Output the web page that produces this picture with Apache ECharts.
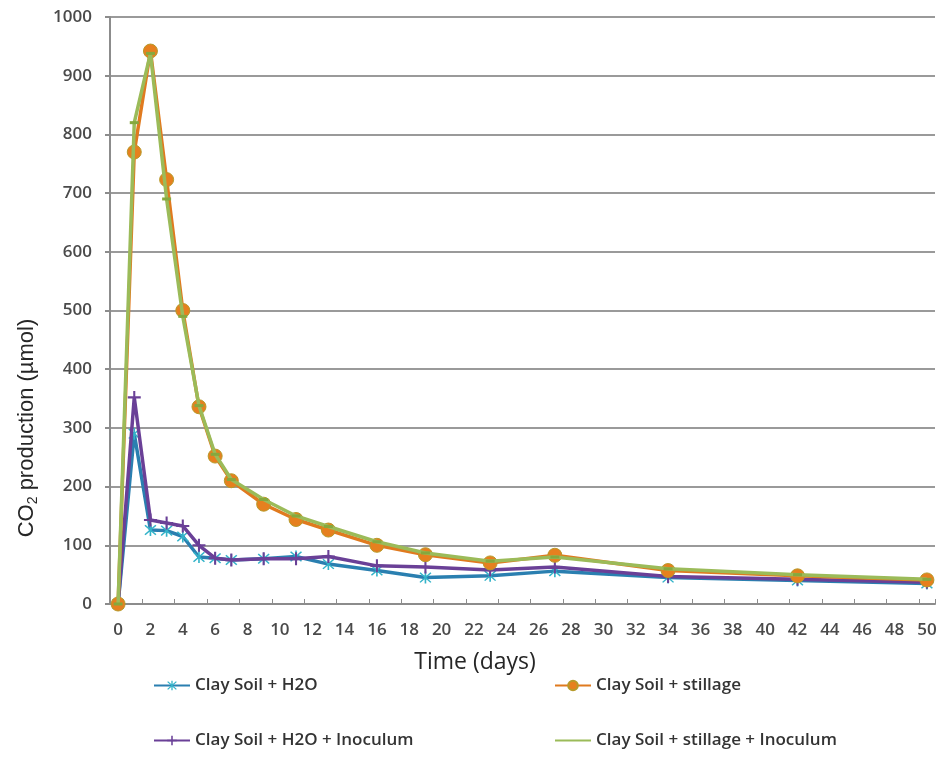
<!DOCTYPE html>
<html>
<head>
<meta charset="utf-8">
<script src="https://cdn.jsdelivr.net/npm/echarts@6/dist/echarts.min.js"></script>
<style>
html,body{margin:0;padding:0;background:#fff;}
#chart{width:943px;height:767px;}
</style>
</head>
<body>
<div id="chart"></div>
<script>
// Tick labels / categories (days 0..50)
const dayCategories = ['0','1','2','3','4','5','6','7','8','9','10','11','12','13','14','15','16','17','18','19','20','21','22','23','24','25','26','27','28','29','30','31','32','33','34','35','36','37','38','39','40','41','42','43','44','45','46','47','48','49','50'];
// Sampling days
const days = [0, 1, 2, 3, 4, 5, 6, 7, 9, 11, 13, 16, 19, 23, 27, 34, 42, 50];
// Series values (µmol)
const claySoilH2O         = [0, 290, 126, 125, 115, 80, 78, 75, 77, 81, 68, 57, 45, 48, 56, 45, 40, 35];
const claySoilStillage    = [0, 770, 942, 723, 500, 336, 252, 210, 170, 144, 126, 100, 84, 70, 83, 57, 48, 41];
const claySoilH2OInoc     = [0, 352, 143, 138, 133, 100, 78, 75, 77, 77, 81, 65, 63, 58, 63, 47, 42, 37];
const claySoilStillInoc   = [0, 820, 938, 690, 490, 338, 255, 212, 178, 150, 132, 106, 87, 73, 80, 60, 50, 42];
const seriesNames = ['Clay Soil + H2O', 'Clay Soil + stillage', 'Clay Soil + H2O + Inoculum', 'Clay Soil + stillage + Inoculum'];

function pairs(vals){ return days.map((d,i)=>[String(d), vals[i]]); }

const asterisk = 'path://M4.4 0H5.6V10H4.4Z M0.6 1.4L1.4 0.6L9.4 8.6L8.6 9.4Z M8.6 0.6L9.4 1.4L1.4 9.4L0.6 8.6Z';
const plus = 'path://M4.2 0H5.8V10H4.2Z M0 4.2H10V5.8H0Z';
const dash = 'path://M0 0H10V3H0Z';

const chart = echarts.init(document.getElementById('chart'), null, {renderer:'canvas'});
const labelFont = {fontFamily:'Open Sans', fontSize:17, fontWeight:600, color:'#4a4a4a'};

const legendBase = {
  orient:'horizontal', itemWidth:36, itemHeight:12, itemGap:10,
  textStyle:{fontFamily:'Open Sans', fontSize:17, fontWeight:600, color:'#333'}
};

chart.setOption({
  animation:false,
  backgroundColor:'#fff',
  grid:{left:110, right:8, top:17, bottom:163, containLabel:false},
  xAxis:{
    type:'category', data:dayCategories, boundaryGap:true,
    axisLine:{lineStyle:{color:'#8c8c8c', width:2}},
    axisTick:{show:true, inside:true, length:5, interval:1, lineStyle:{color:'#8c8c8c', width:1}},
    axisLabel:Object.assign({interval:1, margin:18}, labelFont),
    splitLine:{show:false}
  },
  yAxis:{
    type:'value', min:0, max:1000, interval:100,
    axisLine:{show:true, lineStyle:{color:'#8c8c8c', width:2}},
    axisTick:{show:true, length:5, lineStyle:{color:'#8c8c8c', width:2}},
    axisLabel:Object.assign({margin:18, formatter:function(v){return String(v);}}, labelFont),
    splitLine:{show:true, lineStyle:{color:'#9a9a9a', width:2}}
  },
  legend:[
    Object.assign({data:[seriesNames[0]], left:148, top:672}, legendBase),
    Object.assign({data:[seriesNames[1]], left:549, top:672}, legendBase),
    Object.assign({data:[seriesNames[2]], left:148, top:727}, legendBase),
    Object.assign({data:[{name:seriesNames[3], itemStyle:{opacity:0}}], left:549, top:727}, legendBase)
  ],
  graphic:[
    {type:'text', x:475, y:662, style:{text:'Time (days)', fontFamily:'Open Sans', fontSize:23, fill:'#262626', align:'center', verticalAlign:'middle'}},
    {type:'text', x:27, y:428, rotation:Math.PI/2,
      style:{text:'{n|CO}{s|2}{n| production (µmol)}', align:'center', verticalAlign:'middle',
        rich:{n:{fontFamily:'Liberation Sans', fontSize:22, fill:'#262626'}, s:{fontFamily:'Liberation Sans', fontSize:14, fill:'#262626', padding:[12,0,0,0]}}}}
  ],
  series:[
    {name:seriesNames[0], type:'line', data:pairs(claySoilH2O), symbol:asterisk, symbolSize:12, showAllSymbol:true,
      lineStyle:{color:'#2a7fb0', width:3.5}, itemStyle:{color:'#33b3c9'}, z:2},
    {name:seriesNames[2], type:'line', data:pairs(claySoilH2OInoc), symbol:plus, symbolSize:13, showAllSymbol:true,
      lineStyle:{color:'#6a4097', width:3.5}, itemStyle:{color:'#6a4097'}, z:3},
    {name:seriesNames[1], type:'line', data:pairs(claySoilStillage), symbol:'circle', symbolSize:14, showAllSymbol:true,
      lineStyle:{color:'#e07a1f', width:3.5}, itemStyle:{color:'#e6801f', borderColor:'#b79a2a', borderWidth:1}, z:4},
    {name:seriesNames[3], type:'line', data:pairs(claySoilStillInoc), symbol:dash, symbolSize:[9,3], showAllSymbol:true,
      lineStyle:{color:'#9bbb59', width:3.5}, itemStyle:{color:'#86a83e'}, z:5}
  ]
});
</script>
</body>
</html>
